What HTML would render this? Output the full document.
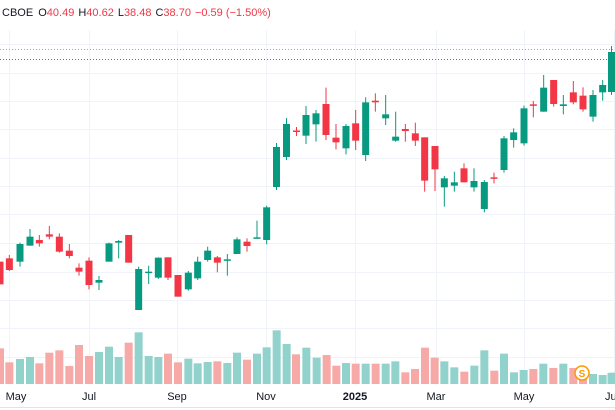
<!DOCTYPE html>
<html><head><meta charset="utf-8"><style>
html,body{margin:0;padding:0;background:#fff;width:615px;height:410px;overflow:hidden}
svg{display:block;font-family:"Liberation Sans",sans-serif}
</style></head><body>
<svg id="s" width="615" height="410" viewBox="0 0 615 410" xmlns="http://www.w3.org/2000/svg">
<g stroke="#f0f3fa" stroke-width="1" id="grid"></g>
<line x1="0" y1="49.5" x2="615" y2="49.5" stroke="#ff9800" stroke-dasharray="1,2" stroke-width="1"/>
<line x1="0" y1="59.5" x2="615" y2="59.5" stroke="#f23645" stroke-dasharray="1,2" stroke-width="1"/>
<g id="vol"></g>
<g id="c"></g>
<circle cx="582" cy="373" r="7" fill="#fff" stroke="#ff9800" stroke-width="1.5"/>
<text x="582" y="377" font-size="10" fill="#ff9800" text-anchor="middle" font-weight="bold">S</text>
<line x1="0" y1="407.5" x2="615" y2="407.5" stroke="#e0e3eb"/>
<g font-size="11" fill="#131722">
<text x="16" y="400" text-anchor="middle">May</text>
<text x="89" y="400" text-anchor="middle">Jul</text>
<text x="177" y="400" text-anchor="middle">Sep</text>
<text x="266" y="400" text-anchor="middle">Nov</text>
<text x="355" y="400" text-anchor="middle" font-weight="bold">2025</text>
<text x="436" y="400" text-anchor="middle">Mar</text>
<text x="524" y="400" text-anchor="middle">May</text>
<text x="605" y="400">Ju</text>
</g>
<text x="2" y="16" font-size="11" fill="#131722">CBOE <tspan dx="2">O</tspan><tspan fill="#f23645">40.49</tspan><tspan dx="4">H</tspan><tspan fill="#f23645">40.62</tspan><tspan dx="4">L</tspan><tspan fill="#f23645">38.48</tspan><tspan dx="4">C</tspan><tspan fill="#f23645">38.70</tspan><tspan dx="4" fill="#f23645">−0.59 (−1.50%)</tspan></text>
</svg>
<script>
var NS="http://www.w3.org/2000/svg";
function el(p,t,a){var e=document.createElementNS(NS,t);for(var k in a)e.setAttribute(k,a[k]);document.getElementById(p).appendChild(e);}
[44,73,101,129,158,186,214,243,272,300,328,357].forEach(function(y){el("grid","line",{x1:0,x2:615,y1:y+.5,y2:y+.5});});
[9,89,177,266,355,436,524,614].forEach(function(x){el("grid","line",{x1:x+.5,x2:x+.5,y1:30,y2:385});});
var G="#089981",R="#f23645";
// zoom2 candles: [zx, col, bt, bb, wt, wb] -> x=zx/3, y=200+z/3
var z2=[[0,R,185,253,185,253],[28,R,175,210,165,213],[60,G,132,185,128,200],[90,G,110,137,87,137],[118,R,120,130,105,140],[148,R,103,110,78,118],[178,R,110,155,100,158],[208,R,152,168,132,175],[237,R,203,215,190,227],[267,R,182,255,172,268],[297,G,240,248,228,270],[327,G,130,185,128,185],[356,G,123,128,120,175],[386,R,105,188,105,188],[416,G,207,330,200,330],[446,G,215,218,197,252],[475,G,173,233,172,237],[504,R,172,233,172,240],[534,R,225,290,225,290],[565,G,218,268,213,272],[593,G,185,235,170,240],[623,G,152,180,140,185],[652,R,172,188,168,217],[682,G,178,181,162,227],[711,G,118,162,112,162],[741,R,125,138,115,155],[771,G,112,115,62,115],[800,G,22,120,17,133]];
function candle(x,c,bt,bb,wt,wb){el("c","line",{x1:x,x2:x,y1:wt,y2:wb,stroke:c,"stroke-width":1});var h=Math.max(bb-bt,1.5);el("c","rect",{x:x-3.5,y:bt,width:7,height:h,fill:c});}
z2.forEach(function(d){candle(d[0]/3,d[1],200+d[2]/3,200+d[3]/3,200+d[4]/3,200+d[5]/3);});
candle(276.5,G,147,187,143,190);candle(286.5,G,124,157,118,160);candle(296.5,R,130.5,131.5,127,136);
var z3=[[18,G,165,227,138,252],[48,G,160,193,150,245],[78,R,132,225,83,240],[108,R,233,247,192,268],[138,G,198,265,192,283],[167,R,190,242,150,270],[197,G,127,285,112,303],[226,R,122,127,100,155],[257,G,163,175,105,195],[287,G,230,242,155,245],[316,R,207,213,192,245],[346,R,220,242,188,258],[374,R,232,362,232,395],[405,R,258,328,258,393],[433,G,355,382,348,440],[463,G,367,377,335,395],[492,R,325,367,310,367],[522,G,363,382,325,395],[553,G,366,447,360,457],[582,R,352,354,338,370],[612,G,235,330,228,338],[641,G,217,240,205,263],[672,G,145,250,137,257],[700,R,133,135,123,172],[731,G,83,155,45,155],[761,R,60,132,60,140],[790,G,133,138,105,163],[820,R,97,127,63,133],[849,R,107,148,82,155],[879,G,105,170,90,185],[908,G,75,97,60,122]];
z3.forEach(function(d){candle(300+d[0]/3,d[1],60+d[2]/3,60+d[3]/3,60+d[4]/3,60+d[5]/3);});
candle(611.5,G,52,92,46,95);
var VG="#92d2cc",VR="#f7a9a7";
var v2=[[0,R,445],[28,R,487],[60,G,477],[90,G,471],[118,R,490],[148,R,458],[178,R,451],[208,R,498],[237,R,435],[267,R,468],[297,G,456],[327,G,440],[356,G,471],[386,R,428],[416,G,397],[446,G,468],[475,G,471],[504,R,461],[534,R,487],[565,G,476],[593,G,490],[623,G,486],[652,R,484],[682,G,489],[711,G,458],[741,R,479],[771,G,461],[800,G,442],[830,G,391],[860,G,432],[888,R,463]];
function vb(x,c,t){el("vol","rect",{x:x-4,y:t,width:8,height:384-t,fill:c==G?VG:VR});}
v2.forEach(function(d){vb(d[0]/3,d[1],200+d[2]/3);});
var v4=[[19,G,83],[50,G,113],[80,R,105],[109,R,137],[138,G,129],[167,R,131],[197,G,131],[227,R,131],[257,G,131],[286,G,124],[316,R,157],[345,R,147],[375,R,83],[404,R,113],[433,G,124],[463,G,142],[493,R,155],[523,G,137],[553,G,91],[583,R,152],[612,G,101],[642,G,157],[671,G,150],[700,R,147],[730,G,131],[760,R,144],[790,G,131],[820,R,144],[849,R,150],[879,G,162],[908,G,165],[938,G,158]];
v4.forEach(function(d){vb(300+d[0]/3,d[1],320+d[2]/3);});
vb(611.5,G,373);
</script>
</body></html>
